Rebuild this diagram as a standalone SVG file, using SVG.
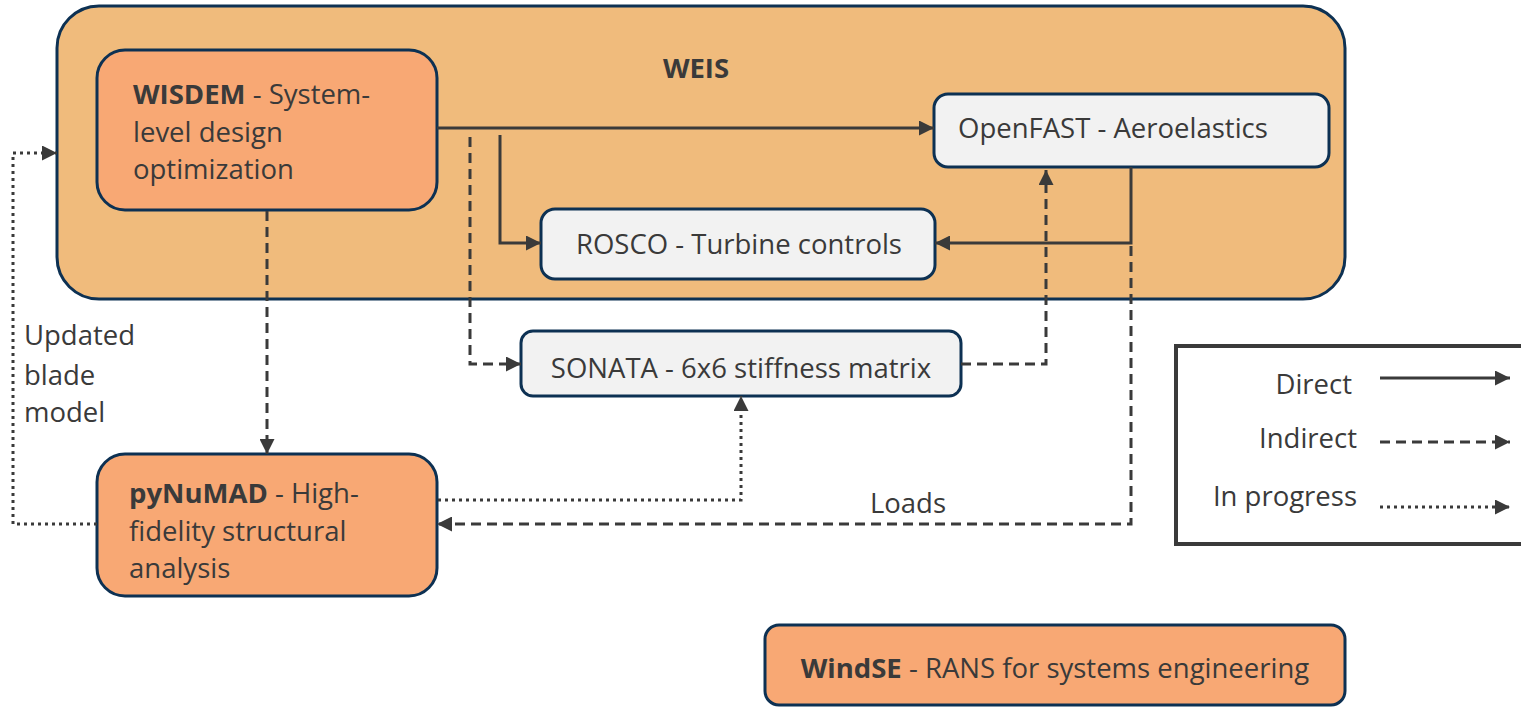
<svg xmlns="http://www.w3.org/2000/svg" width="1521" height="707" viewBox="0 0 1521 707">
<style>
text{font-family:"Open Sans","Noto Sans","Liberation Sans",sans-serif;fill:#3a3a3a;font-size:27.5px}
.b{font-weight:bold}
.box{stroke:#0d3153;stroke-width:3}
.org{fill:#f8a874}
.gry{fill:#f2f2f2}
.c{fill:none;stroke:#3a3a3a;stroke-width:3}
.d{stroke-dasharray:10 6}
.o{stroke-dasharray:3 4}
</style>
<defs>
<marker id="ah" viewBox="0 0 10 10" refX="10" refY="5" markerWidth="5" markerHeight="5" markerUnits="strokeWidth" orient="auto">
<path d="M0,0 L10,5 L0,10 Z" fill="#3a3a3a"/>
</marker>
</defs>
<rect width="1521" height="707" fill="#fff"/>
<g id="weis">
<rect x="57" y="6" width="1288" height="293" rx="42" fill="#f0bb7c" class="box"/>
<text x="696" y="78" text-anchor="middle" class="b">WEIS</text>
</g>
<g id="wisdem">
<rect x="97" y="50" width="340" height="160" rx="28" class="box org"/>
<text x="133" y="104"><tspan class="b">WISDEM</tspan> - System-</text>
<text x="133" y="142">level design</text>
<text x="133" y="179">optimization</text>
</g>
<g id="openfast">
<rect x="934" y="94" width="395" height="73" rx="14" class="box gry"/>
<text x="958" y="138">OpenFAST - Aeroelastics</text>
</g>
<g id="rosco">
<rect x="541" y="209" width="394" height="70" rx="14" class="box gry"/>
<text x="739" y="254" text-anchor="middle">ROSCO - Turbine controls</text>
</g>
<g id="sonata">
<rect x="521" y="331" width="440" height="65" rx="12" class="box gry"/>
<text x="741" y="378" text-anchor="middle">SONATA - 6x6 stiffness matrix</text>
</g>
<g id="pynumad">
<rect x="97" y="454" width="340" height="142" rx="28" class="box org"/>
<text x="129" y="503"><tspan class="b">pyNuMAD</tspan> - High-</text>
<text x="129" y="541">fidelity structural</text>
<text x="129" y="578">analysis</text>
</g>
<g id="windse">
<rect x="765" y="625" width="580" height="80" rx="14" class="box org"/>
<text x="1055" y="678" text-anchor="middle"><tspan class="b">WindSE</tspan> - RANS for systems engineering</text>
</g>
<g id="legend">
<rect x="1176" y="346" width="350" height="198" fill="#fff" stroke="#3a3a3a" stroke-width="4"/>
<text x="1352" y="394" text-anchor="end">Direct</text>
<text x="1357" y="448" text-anchor="end">Indirect</text>
<text x="1357" y="506" text-anchor="end">In progress</text>
<path class="c" d="M1380,378 H1510" marker-end="url(#ah)"/>
<path class="c d" d="M1380,442 H1510" marker-end="url(#ah)"/>
<path class="c o" d="M1380,507 H1510" marker-end="url(#ah)"/>
</g>
<g id="connectors">
<path class="c" d="M437,128 H934" marker-end="url(#ah)"/>
<path class="c" d="M500,135 V243 H541" marker-end="url(#ah)"/>
<path class="c" d="M1131,167 V243 H935" marker-end="url(#ah)"/>
<path class="c d" d="M470,137 V364 H521" marker-end="url(#ah)"/>
<path class="c d" d="M961,364 H1046 V170" marker-end="url(#ah)"/>
<path class="c d" d="M1131,246 V524 H437" marker-end="url(#ah)"/>
<path class="c d" d="M267,211 V454" marker-end="url(#ah)"/>
<path class="c o" d="M438,500 H741 V396" marker-end="url(#ah)"/>
<path class="c o" d="M97,524 H13 V153 H57" marker-end="url(#ah)"/>
<text x="908" y="513" text-anchor="middle">Loads</text>
<text x="24" y="345">Updated</text>
<text x="24" y="385">blade</text>
<text x="24" y="422">model</text>
</g>
</svg>
